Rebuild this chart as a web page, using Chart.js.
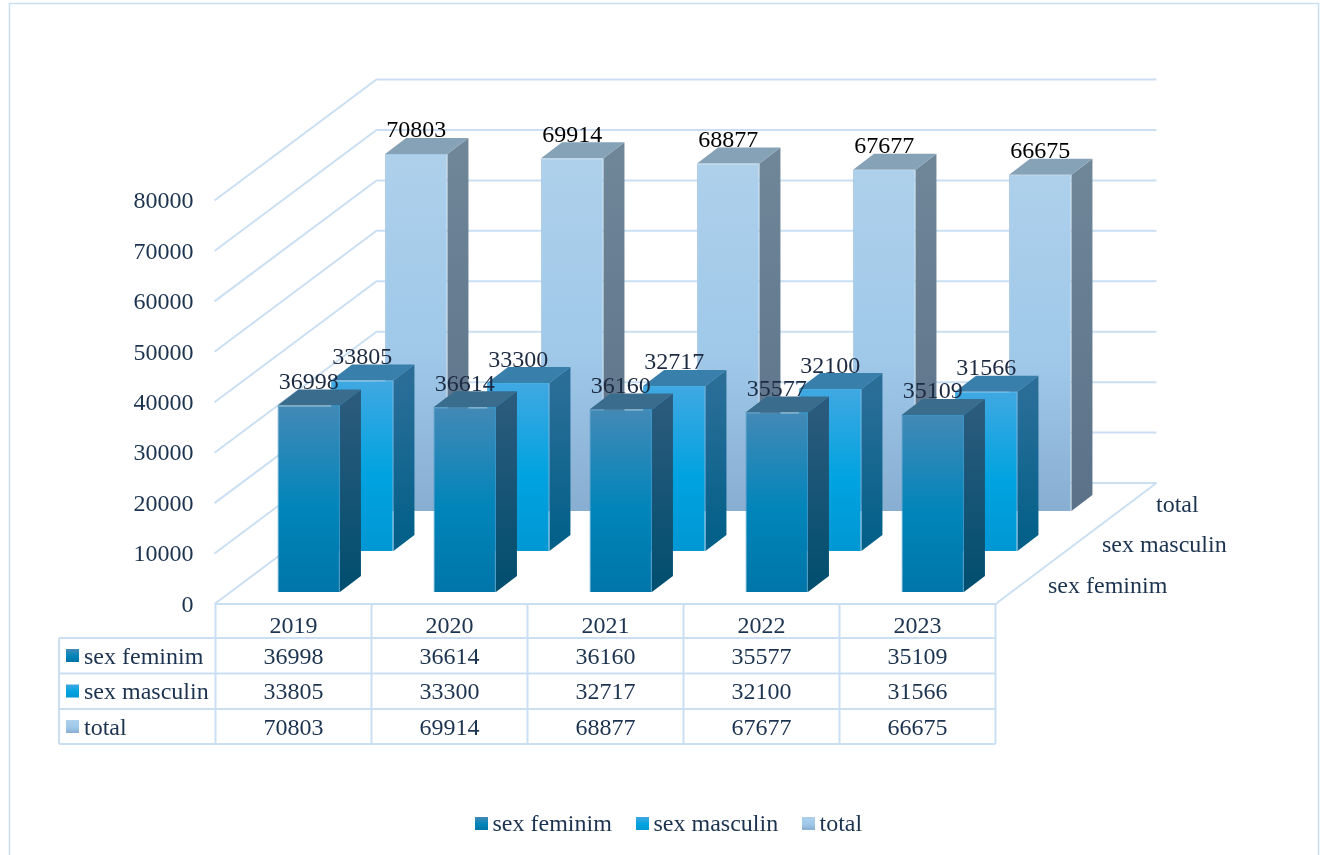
<!DOCTYPE html>
<html>
<head>
<meta charset="utf-8">
<title>sex feminim / sex masculin / total</title>
<script src="https://cdn.jsdelivr.net/npm/chart.js@4/dist/chart.umd.js"></script>
<style>
    html, body { margin: 0; padding: 0; background: #fff; overflow: hidden; }
    canvas { display: block; }
</style>
</head>
<body>
<canvas id="myChart" width="1320" height="855"></canvas>
<script>
// values
const years = ['2019', '2020', '2021', '2022', '2023'];
const sex_feminim = [36998, 36614, 36160, 35577, 35109];
const sex_masculin = [33805, 33300, 32717, 32100, 31566];
const total = [70803, 69914, 68877, 67677, 66675];
const series_names = ['sex feminim', 'sex masculin', 'total'];
const y_ticks_step = 10000;
const y_ticks_max = 80000;

// styles
const font_main = '24px "Liberation Serif"';
const text_color = '#1c3350';
const line_color = '#cbdff3';
// front, side and cap colours, one entry per series
const front_colors = [
    ['#4389b6', '#0085ba', '#0075a8'],
    ['#40a8e2', '#00a3e0', '#0097d4'],
    ['#aed0eb', '#9fc8e9', '#88aed2']
];
const side_colors = [
    ['#2a5a7c', '#004e6e'],
    ['#2a6e98', '#005f88'],
    ['#6f8598', '#5a7188']
];
const cap_colors = ['#3a6c8e', '#387fac', '#86a2b6'];
const edge_colors = ['#3f93c2', '#45aee3', '#a6c8e4'];
const label_colors = ['#1c2a42', '#1c2a42', '#000000'];

// how far each row of bars sits behind the front edge of the floor
const row_shift = [[15.25, -12], [68.75, -53], [122.75, -93]];
const bar_depth = [21, -16];
const wall_depth = [161, -121];

function front_gradient(ctx, top, bottom, stops) {
    let g = ctx.createLinearGradient(0, top, 0, bottom);
    g.addColorStop(0, stops[0]);
    g.addColorStop(0.55, stops[1]);
    g.addColorStop(1, stops[2]);
    return g;
}

function bar_fill(c) {
    let chart = c.chart;
    let stops = front_colors[c.datasetIndex];
    if (!chart.chartArea || c.dataIndex === undefined) return stops[1];
    let y = chart.scales.y;
    let val = c.dataset.data[c.dataIndex];
    return front_gradient(chart.ctx, y.getPixelForValue(val), y.getPixelForValue(0), stops);
}

function bar_edge(c) {
    return edge_colors[c.datasetIndex];
}

function poly(ctx, pts, fill) {
    ctx.beginPath();
    ctx.moveTo(pts[0][0], pts[0][1]);
    for (let i = 1; i < pts.length; i++) ctx.lineTo(pts[i][0], pts[i][1]);
    ctx.closePath();
    ctx.fillStyle = fill;
    ctx.fill();
}

function hline(ctx, x1, y1, x2, y2) {
    ctx.beginPath();
    ctx.moveTo(x1, y1);
    ctx.lineTo(x2, y2);
    ctx.stroke();
}

function swatch(ctx, x, y, idx) {
    ctx.fillStyle = front_gradient(ctx, y, y + 13, front_colors[idx]);
    ctx.fillRect(x, y, 13, 13);
}

// frame, side wall, back wall and floor
function draw_walls(chart) {
    const ctx = chart.ctx;
    const y = chart.scales.y;
    const area = chart.chartArea;
    ctx.save();
    ctx.strokeStyle = line_color;
    ctx.lineWidth = 1.5;
    ctx.strokeRect(9.5, 3.5, 1309, 870);
    ctx.lineWidth = 2;
    for (let v = 0; v <= y_ticks_max; v += y_ticks_step) {
        let py = y.getPixelForValue(v);
        ctx.beginPath();
        ctx.moveTo(area.left - 1, py);
        ctx.lineTo(area.left + wall_depth[0], py + wall_depth[1]);
        ctx.lineTo(area.right + wall_depth[0], py + wall_depth[1]);
        ctx.stroke();
    }
    hline(ctx, area.right, area.bottom, area.right + wall_depth[0], area.bottom + wall_depth[1]);
    ctx.restore();
}

function draw_table(chart) {
    const ctx = chart.ctx;
    const x = chart.scales.x;
    const top = chart.chartArea.bottom;
    const rows = [638, 673.5, 709, 744];
    const half = (x.getPixelForTick(1) - x.getPixelForTick(0)) / 2;
    const table_left = 59;
    ctx.save();
    ctx.strokeStyle = line_color;
    ctx.lineWidth = 2;
    hline(ctx, x.left, top, x.right, top);
    rows.forEach(function (ry) { hline(ctx, table_left, ry, x.right, ry); });
    hline(ctx, table_left, rows[0], table_left, rows[3]);
    hline(ctx, x.left, top, x.left, rows[3]);
    years.forEach(function (yr, i) {
        let right = x.getPixelForTick(i) + half;
        hline(ctx, right, top, right, rows[3]);
    });
    ctx.font = font_main;
    ctx.fillStyle = text_color;
    ctx.textBaseline = 'alphabetic';
    chart.data.datasets.forEach(function (ds, r) {
        let base = rows[r] + 25.5;
        swatch(ctx, 66, rows[r] + 11, r);
        ctx.fillStyle = text_color;
        ctx.textAlign = 'left';
        ctx.fillText(ds.label, 84, base);
        ctx.textAlign = 'center';
        ds.data.forEach(function (v, i) {
            ctx.fillText(String(v), x.getPixelForTick(i), base);
        });
    });
    ctx.restore();
}

// names of the rows along the right edge of the floor
function draw_depth_labels(chart) {
    const ctx = chart.ctx;
    const y0 = chart.scales.y.getPixelForValue(0);
    ctx.save();
    ctx.font = font_main;
    ctx.fillStyle = text_color;
    ctx.textAlign = 'left';
    ctx.textBaseline = 'alphabetic';
    const x_pos = [1048, 1102, 1156];
    series_names.forEach(function (name, i) {
        ctx.fillText(name, x_pos[i], y0 + row_shift[i][1] + 0.5);
    });
    ctx.restore();
}

function draw_legend(chart) {
    const ctx = chart.ctx;
    const sq_x = [475, 636, 802];
    ctx.save();
    ctx.font = font_main;
    ctx.textAlign = 'left';
    ctx.textBaseline = 'alphabetic';
    series_names.forEach(function (name, i) {
        swatch(ctx, sq_x[i], 817, i);
        ctx.fillStyle = text_color;
        ctx.fillText(name, sq_x[i] + 17.5, 831);
    });
    ctx.restore();
}

const bars3d = {
    id: 'bars3d',
    beforeDatasetsDraw(chart) {
        draw_walls(chart);
    },
    beforeDatasetDraw(chart, args) {
        const ctx = chart.ctx;
        const i = args.index;
        ctx.save();
        ctx.translate(row_shift[i][0], row_shift[i][1]);
        args.meta.data.forEach(function (bar) {
            let r = bar.x + bar.width / 2;
            let l = bar.x - bar.width / 2;
            let dx = bar_depth[0], dy = bar_depth[1];
            let g = ctx.createLinearGradient(0, bar.y, 0, bar.base);
            g.addColorStop(0, side_colors[i][0]);
            g.addColorStop(1, side_colors[i][1]);
            poly(ctx, [[r, bar.y], [r + dx, bar.y + dy], [r + dx, bar.base + dy], [r, bar.base]], g);
            poly(ctx, [[l, bar.y], [l + dx, bar.y + dy], [r + dx, bar.y + dy], [r, bar.y]], cap_colors[i]);
        });
    },
    afterDatasetDraw(chart) {
        chart.ctx.restore();
    },
    afterDatasetsDraw(chart) {
        const ctx = chart.ctx;
        ctx.save();
        ctx.font = font_main;
        ctx.textAlign = 'center';
        ctx.textBaseline = 'alphabetic';
        // value labels go on top of every bar, back row first
        for (let i = 2; i >= 0; i--) {
            let ds = chart.data.datasets[i];
            ctx.fillStyle = label_colors[i];
            chart.getDatasetMeta(i).data.forEach(function (bar, j) {
                ctx.fillText(String(ds.data[j]), bar.x + row_shift[i][0], bar.y + row_shift[i][1] + bar_depth[1] - 0.5);
            });
        }
        ctx.restore();
    },
    afterDraw(chart) {
        draw_table(chart);
        draw_depth_labels(chart);
        draw_legend(chart);
    }
};

const ctx = document.getElementById('myChart').getContext('2d');
var myChart = new Chart(ctx, {
    type: 'bar',
    data: {
        labels: years,
        datasets: [
            { label: series_names[0], data: sex_feminim, backgroundColor: bar_fill, borderColor: bar_edge },
            { label: series_names[1], data: sex_masculin, backgroundColor: bar_fill, borderColor: bar_edge },
            { label: series_names[2], data: total, backgroundColor: bar_fill, borderColor: bar_edge }
        ]
    },
    options: {
        responsive: false,
        animation: false,
        layout: { padding: { left: 0, top: 200.5, right: 324.5, bottom: 0 } },
        datasets: {
            bar: {
                grouped: false,
                clip: false,
                barPercentage: 0.4,
                categoryPercentage: 1,
                borderWidth: 1
            }
        },
        plugins: {
            legend: { display: false },
            tooltip: { enabled: false }
        },
        scales: {
            x: {
                grid: { display: false },
                border: { display: false },
                afterFit(scale) { scale.height = 251; },
                ticks: {
                    color: text_color,
                    font: { family: 'Liberation Serif', size: 24 },
                    padding: 0,
                    maxRotation: 0
                }
            },
            y: {
                min: 0,
                max: y_ticks_max,
                grid: { display: false },
                border: { display: false },
                afterFit(scale) { scale.width = 215.5; },
                ticks: {
                    stepSize: y_ticks_step,
                    color: text_color,
                    font: { family: 'Liberation Serif', size: 24 },
                    padding: 14,
                    labelOffset: 1.5,
                    callback: function (v) { return String(v); }
                }
            }
        }
    },
    plugins: [bars3d]
});
</script>
</body>
</html>
